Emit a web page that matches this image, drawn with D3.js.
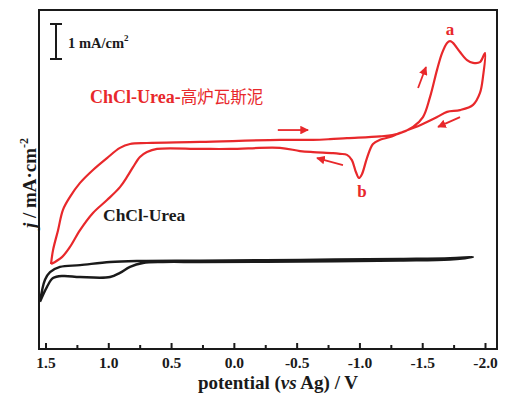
<!DOCTYPE html>
<html>
<head>
<meta charset="utf-8">
<script src="https://cdn.jsdelivr.net/npm/d3@7"></script>
<style>
  body { margin: 0; background: #fff; }
  text { font-family: "Liberation Serif", "Times New Roman", serif; }
</style>
</head>
<body>
<svg id="chart" width="512" height="398"></svg>
<script>
// Potential axis ticks (V vs Ag)
const xTicks = [1.5, 1.0, 0.5, 0.0, -0.5, -1.0, -1.5, -2.0];
const xTickLabels = ["1.5", "1.0", "0.5", "0.0", "-0.5", "-1.0", "-1.5", "-2.0"];
const xMinorTicks = [1.25, 0.75, 0.25, -0.25, -0.75, -1.25, -1.75];

// ChCl-Urea-高炉瓦斯泥: forward scan to -2.0 V, then return scan
const redPotential = [1.456, 1.440, 1.400, 1.361, 1.305, 1.225, 1.122, 1.010, 0.907, 0.827, 0.692, 0.270,
  -0.367, -0.630, -0.766, -0.901, -1.164, -1.307, -1.427, -1.506, -1.562, -1.618, -1.658, -1.698, -1.722,
  -1.745, -1.801, -1.857, -1.905, -1.960, -2.000,
  -1.984, -1.960, -1.905, -1.801, -1.698, -1.618, -1.483, -1.324, -1.244, -1.164, -1.108, -1.060, -1.020,
  -0.996, -0.972, -0.940, -0.901, -0.845, -0.790, -0.630, -0.527, -0.367, 0.030, 0.270, 0.612, 0.692,
  0.748, 0.803, 0.851, 0.907, 1.010, 1.122, 1.225, 1.305, 1.369, 1.456];
const redCurrent = [-0.06, 0.34, 0.91, 1.49, 1.86, 2.26, 2.63, 2.97, 3.26, 3.37, 3.40, 3.43,
  3.49, 3.49, 3.51, 3.54, 3.59, 3.66, 3.86, 4.14, 4.71, 5.49, 5.97, 6.26, 6.31,
  6.26, 6.00, 5.77, 5.69, 5.71, 5.97,
  5.29, 4.83, 4.49, 4.34, 4.29, 4.14, 3.91, 3.69, 3.57, 3.49, 3.37, 2.97, 2.51,
  2.40, 2.57, 2.91, 3.06, 3.09, 3.11, 3.14, 3.17, 3.26, 3.23, 3.23, 3.23, 3.14,
  3.00, 2.71, 2.43, 2.14, 1.77, 1.40, 0.91, 0.43, 0.14, -0.06];

// ChCl-Urea blank electrolyte
const blackPotential = [1.544, 1.504, 1.464, 1.385, 1.225, 0.986, 0.747, 0.270, -0.530, -1.326, -1.721, -1.904,
  -1.721, -1.326, -0.530, 0.270, 0.565, 0.724, 0.827, 0.907, 0.986, 1.225, 1.361, 1.440, 1.488, 1.544];
const blackCurrent = [-1.14, -0.51, -0.29, -0.14, -0.09, 0.00, 0.03, 0.04, 0.06, 0.09, 0.11, 0.14,
  0.07, 0.04, 0.01, 0.00, 0.00, -0.03, -0.14, -0.31, -0.43, -0.43, -0.40, -0.46, -0.71, -1.14];

// Scan-direction arrows [V, j]
const arrowFrom = [[-0.35, 3.77], [-0.869, 2.77], [-1.467, 4.97], [-1.801, 4.14]];
const arrowTo = [[-0.591, 3.77], [-0.662, 2.97], [-1.530, 5.57], [-1.626, 3.86]];

const peakLabels = ["a", "b"];
const peakPos = [[-1.722, 6.63], [-1.020, 2.0]];

const red = "#e8282b";
const ink = "#1a1a1a";

const svg = d3.select("#chart");
const frameL = 39, frameR = 497, frameT = 10, frameB = 349;

const x = d3.scaleLinear().domain([1.5, -2.0]).range([45.5, 485]);
const y = d3.scaleLinear().domain([-2.486, 7.2]).range([frameB, frameT]);

const defs = svg.append("defs");
defs.append("marker")
  .attr("id", "head")
  .attr("viewBox", "0 0 10 10")
  .attr("refX", 9).attr("refY", 5)
  .attr("markerWidth", 4.8).attr("markerHeight", 4.8)
  .attr("orient", "auto")
  .attr("markerUnits", "strokeWidth")
  .append("path").attr("d", "M0,0 L10,5 L0,10 Z").attr("fill", red);

const line = d3.line()
  .x(d => x(d[0])).y(d => y(d[1]))
  .curve(d3.curveCatmullRom.alpha(0.5));

svg.append("path")
  .datum(blackPotential.map((v, i) => [v, blackCurrent[i]]))
  .attr("d", line).attr("fill", "none")
  .attr("stroke", ink).attr("stroke-width", 2.4).attr("stroke-linejoin", "round");

svg.append("path")
  .datum(redPotential.map((v, i) => [v, redCurrent[i]]))
  .attr("d", line).attr("fill", "none")
  .attr("stroke", red).attr("stroke-width", 2.2).attr("stroke-linejoin", "round");

// Scan direction arrows
svg.selectAll("line.arrow").data(arrowFrom).join("line")
  .attr("class", "arrow")
  .attr("x1", d => x(d[0])).attr("y1", d => y(d[1]))
  .attr("x2", (d, i) => x(arrowTo[i][0])).attr("y2", (d, i) => y(arrowTo[i][1]))
  .attr("stroke", red).attr("stroke-width", 1.8)
  .attr("marker-end", "url(#head)");

// Peak labels
svg.selectAll("text.peak").data(peakLabels).join("text")
  .attr("class", "peak")
  .attr("x", (d, i) => x(peakPos[i][0])).attr("y", (d, i) => y(peakPos[i][1]))
  .attr("text-anchor", "middle").attr("dominant-baseline", "central")
  .attr("fill", red).attr("font-weight", "bold").attr("font-size", 17)
  .text(d => d);

// Frame
svg.append("rect")
  .attr("x", frameL).attr("y", frameT).attr("width", frameR - frameL).attr("height", frameB - frameT)
  .attr("fill", "none").attr("stroke", ink).attr("stroke-width", 2);

// Bottom axis with inward ticks
const gx = svg.append("g").attr("transform", `translate(0,${frameB})`)
  .call(d3.axisBottom(x).tickValues(xTicks).tickSize(-6).tickPadding(8)
    .tickFormat((d, i) => xTickLabels[i]));
gx.select(".domain").remove();
gx.selectAll(".tick line").attr("stroke", ink).attr("stroke-width", 2);
gx.selectAll(".tick text")
  .attr("font-family", "'Liberation Serif', 'Times New Roman', serif")
  .attr("font-size", 15.5).attr("font-weight", "bold").attr("fill", ink);

const gm = svg.append("g").attr("transform", `translate(0,${frameB})`)
  .call(d3.axisBottom(x).tickValues(xMinorTicks).tickSize(-4).tickFormat(""));
gm.select(".domain").remove();
gm.selectAll(".tick line").attr("stroke", ink).attr("stroke-width", 2);

// Axis titles
const xt = svg.append("text")
  .attr("x", 278).attr("y", 389).attr("text-anchor", "middle")
  .attr("font-size", 19).attr("font-weight", "bold").attr("fill", ink);
xt.append("tspan").text("potential (");
xt.append("tspan").attr("font-style", "italic").text("vs");
xt.append("tspan").text(" Ag) / V");

const yt = svg.append("text")
  .attr("transform", "translate(36,183) rotate(-90)")
  .attr("text-anchor", "middle")
  .attr("font-size", 19).attr("font-weight", "bold").attr("fill", ink);
yt.append("tspan").attr("font-style", "italic").text("j");
yt.append("tspan").text(" / mA·cm");
yt.append("tspan").attr("dy", -8).attr("font-size", 12).text("-2");

// 1 mA/cm² scale bar
const barX = 56, barLow = 5.8, barHigh = 6.8;
const sb = svg.append("g").attr("stroke", ink).attr("stroke-width", 2);
sb.append("line").attr("x1", barX).attr("x2", barX).attr("y1", y(barLow)).attr("y2", y(barHigh));
sb.append("line").attr("x1", barX - 6).attr("x2", barX + 6).attr("y1", y(barLow)).attr("y2", y(barLow));
sb.append("line").attr("x1", barX - 6).attr("x2", barX + 6).attr("y1", y(barHigh)).attr("y2", y(barHigh));
const sbt = svg.append("text").attr("x", 68).attr("y", 48)
  .attr("font-size", 14.5).attr("font-weight", "bold").attr("fill", ink);
sbt.append("tspan").text("1 mA/cm");
sbt.append("tspan").attr("dy", -7).attr("font-size", 9).text("2");

// Series labels
const rl = svg.append("text").attr("x", 90).attr("y", 103)
  .attr("font-size", 18).attr("fill", red);
rl.append("tspan").attr("font-weight", "bold").text("ChCl-Urea-");
rl.append("tspan").attr("font-family", "'Noto Sans CJK SC', sans-serif").attr("font-size", 16.5).text("高炉瓦斯泥");

svg.append("text").attr("x", 103).attr("y", 221)
  .attr("font-size", 17.5).attr("font-weight", "bold").attr("fill", ink)
  .text("ChCl-Urea");
</script>
</body>
</html>
